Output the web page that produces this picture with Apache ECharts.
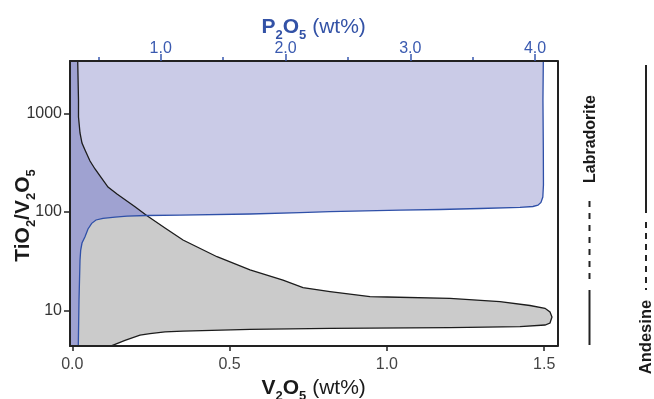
<!DOCTYPE html>
<html><head><meta charset="utf-8">
<script src="https://cdn.jsdelivr.net/npm/echarts@6/dist/echarts.min.js"></script>
<style>html,body{margin:0;padding:0;background:#fff}#c{width:654px;height:399px}</style>
</head><body><div id="c"></div>
<script>
// ---- axis extents ----
const V_MIN = -0.0073, V_MAX = 1.5417;     // V2O5 (wt%) bottom axis
const P_MIN = 0.2732,  P_MAX = 4.178;      // P2O5 (wt%) top axis
const R_MIN = 4.342,   R_MAX = 3396;       // TiO2/V2O5 (log)
const v2o5Ticks = [0, 0.5, 1, 1.5];
const p2o5MajorTicks = [1, 2, 3, 4];
const p2o5MinorTicks = [0.5, 1.5, 2.5, 3.5];
const ratioTicks = [10, 100, 1000];

// ---- V2O5 field (grey): upper boundary from top down to the tip, [V2O5, TiO2/V2O5] ----
const v2o5Upper = [[0.0172,3400],[0.0197,1365],[0.0197,917],[0.0245,631],[0.0308,499],[0.0404,424],
  [0.0563,328],[0.0722,272],[0.088,231],[0.1135,178.5],[0.1421,151.6],[0.1993,112.7],[0.2365,91.7],
  [0.2947,68.5],[0.3519,51.7],[0.46,35.0],[0.5649,25.7],[0.6698,20.3],[0.7334,17.0],[0.8192,15.5],
  [0.9463,13.8],[1.0003,13.65],[1.2006,13.24],[1.3595,12.28],[1.4549,11.19],[1.5026,10.48],
  [1.5185,9.61],[1.5248,8.55]];
// lower boundary from the tip back to the bottom axis
const v2o5Lower = [[1.5185,7.43],[1.5026,7.09],[1.4231,6.82],[1.2006,6.66],[0.8192,6.57],[0.5649,6.41],
  [0.3519,6.16],[0.2947,6.05],[0.247,5.81],[0.2152,5.61],[0.1675,4.94],[0.1198,4.3]];
// ---- P2O5 field (lavender): boundary from bottom-left to top-right, [P2O5, TiO2/V2O5] ----
const p2o5Boundary = [[0.3397,4.3],[0.3454,12.72],[0.3534,32.4],[0.359,40.9],[0.3694,48.2],[0.3934,55.9],
  [0.4175,66.9],[0.4471,76.4],[0.4816,82.6],[0.5377,85.9],[0.6338,88.5],[0.73,90.2],[0.888,91.7],
  [1.1546,92.4],[1.7155,95.0],[2.1162,97.9],[2.3566,100.2],[2.9175,103.8],[3.238,105.5],[3.5585,108.0],
  [3.879,111.1],[3.983,113.2],[4.023,116.7],[4.047,124.3],[4.062,141.3],[4.067,187.1],[4.066,424],
  [4.063,1365],[4.066,3400]];
const crossingRatio = 91.7; // where the two boundaries cross

const C_LAV = '#CACBE7', C_OVER = '#9FA2D1', C_GREY = '#CBCBCB', C_BLUE = '#2F50A8', C_BLACK = '#1c1c1c';
const FONT = '"Liberation Sans", Arial, Helvetica, sans-serif';

const chart = echarts.init(document.getElementById('c'), null, {renderer: 'canvas'});

function polygonSeries(name, xIdx, pts, fill, z) {
  return {
    type: 'custom', name, xAxisIndex: xIdx, yAxisIndex: 0, z, clip: true, silent: true,
    data: pts,
    renderItem: (params, api) => {
      if (params.dataIndex !== 0) return;
      return {type: 'polygon', shape: {points: pts.map(p => api.coord(p))},
              style: {fill: fill, stroke: 'none'}};
    }
  };
}
function lineSeries(name, xIdx, pts, color, z) {
  return {
    type: 'custom', name, xAxisIndex: xIdx, yAxisIndex: 0, z, clip: true, silent: true,
    data: pts,
    renderItem: (params, api) => {
      if (params.dataIndex !== 0) return;
      return {type: 'polyline', shape: {points: pts.map(p => api.coord(p))},
              style: {fill: 'none', stroke: color, lineWidth: 1.3}};
    }
  };
}

const greyPoly = [[V_MIN, R_MAX * 1.01]].concat(v2o5Upper, v2o5Lower, [[V_MIN, R_MIN * 0.99]]);
const lavPoly = [[P_MIN, R_MAX * 1.01], [P_MIN, R_MIN * 0.99]].concat(p2o5Boundary);
const iUp = v2o5Upper.findIndex(p => p[1] === crossingRatio);
const iBl = p2o5Boundary.findIndex(p => p[1] === crossingRatio);

const overlapSeries = {
  type: 'custom', name: 'overlap', xAxisIndex: 0, yAxisIndex: 0, z: 3, clip: true, silent: true,
  data: v2o5Upper.slice(0, iUp + 1),
  renderItem: (params, api) => {
    if (params.dataIndex !== 0) return;
    const pts = [api.coord([V_MIN, R_MAX * 1.01])];
    v2o5Upper.slice(0, iUp + 1).forEach(p => pts.push(api.coord(p)));
    p2o5Boundary.slice(0, iBl).reverse().forEach(p =>
      pts.push(chart.convertToPixel({xAxisIndex: 1, yAxisIndex: 0}, p)));
    pts.push(api.coord([V_MIN, R_MIN * 0.99]));
    return {type: 'polygon', shape: {points: pts}, style: {fill: C_OVER, stroke: 'none'}};
  }
};

const titleRich = (color) => ({
  b: {fontSize: 21, fontWeight: 'bold', color, fontFamily: FONT, lineHeight: 30},
  s: {fontSize: 13, fontWeight: 'bold', color, fontFamily: FONT, lineHeight: 14, verticalAlign: 'bottom'},
  n: {fontSize: 21, fontWeight: 'normal', color, fontFamily: FONT, lineHeight: 30}
});

const option = {
  animation: false,
  backgroundColor: '#fff',
  textStyle: {fontFamily: FONT},
  grid: {left: 70, right: 96.7, top: 61, bottom: 53, containLabel: false, outerBoundsMode: 'none'},
  xAxis: [
    {type: 'value', position: 'bottom', min: V_MIN, max: V_MAX, z: 10,
     name: '{b|V}{s|2}{b|O}{s|5}{n| (wt%)}', nameLocation: 'middle', nameGap: 27, nameMoveOverlap: false,
     nameTextStyle: {rich: titleRich('#1a1a1a')},
     axisLine: {show: true, onZero: false, lineStyle: {color: '#222', width: 2}},
     axisTick: {show: true, length: 5, customValues: v2o5Ticks, lineStyle: {color: '#222', width: 1.5}},
     axisLabel: {customValues: v2o5Ticks, fontSize: 16, color: '#444', margin: 11,
                 formatter: v => v.toFixed(1)},
     splitLine: {show: false}},
    {type: 'value', position: 'top', min: P_MIN, max: P_MAX, z: 10,
     name: '{b|P}{s|2}{b|O}{s|5}{n| (wt%)}', nameLocation: 'middle', nameGap: 19, nameMoveOverlap: false,
     nameTextStyle: {rich: titleRich('#3352A6')},
     axisLine: {show: true, onZero: false, lineStyle: {color: '#222', width: 2}},
     axisTick: {show: true, length: 7, customValues: p2o5MajorTicks, lineStyle: {color: '#3A5AB0', width: 1.5}},
     axisLabel: {customValues: p2o5MajorTicks, fontSize: 16, color: '#3A5AB0', margin: 4,
                 formatter: v => v.toFixed(1)},
     splitLine: {show: false}},
    {type: 'value', position: 'top', min: P_MIN, max: P_MAX, z: 9,
     axisLine: {show: false},
     axisTick: {show: true, length: 4, customValues: p2o5MinorTicks, lineStyle: {color: '#3A5AB0', width: 1.5}},
     axisLabel: {show: false}, splitLine: {show: false}}
  ],
  yAxis: [
    {type: 'log', position: 'left', min: R_MIN, max: R_MAX, z: 10,
     name: '{b|TiO}{s|2}{b|/V}{s|2}{b|O}{s|5}', nameLocation: 'middle', nameGap: 32, nameRotate: 90,
     nameMoveOverlap: false,
     nameTextStyle: {rich: titleRich('#1a1a1a'), padding: [0, 24, 0, 0]},
     axisLine: {show: true, onZero: false, lineStyle: {color: '#222', width: 2}},
     axisTick: {show: true, length: 6, customValues: ratioTicks, lineStyle: {color: '#222', width: 1.5}},
     axisLabel: {customValues: ratioTicks, fontSize: 16, color: '#333', margin: 8,
                 formatter: v => String(Math.round(v))},
     splitLine: {show: false}, minorSplitLine: {show: false}},
    {type: 'log', position: 'right', min: R_MIN, max: R_MAX, z: 10,
     axisLine: {show: true, onZero: false, lineStyle: {color: '#222', width: 2}},
     axisTick: {show: false}, axisLabel: {show: false}, splitLine: {show: false}}
  ],
  series: [
    polygonSeries('P2O5 field', 1, lavPoly, C_LAV, 1),
    polygonSeries('V2O5 field', 0, greyPoly, C_GREY, 2),
    overlapSeries,
    lineSeries('V2O5 upper', 0, v2o5Upper.concat(v2o5Lower), C_BLACK, 4),
    lineSeries('P2O5 boundary', 1, p2o5Boundary, C_BLUE, 5)
  ],
  graphic: [
    {type: 'text', x: 591, y: 139, rotation: Math.PI / 2, z: 20,
     style: {text: 'Labradorite', font: 'bold 16px ' + FONT, fill: '#1a1a1a', align: 'center', verticalAlign: 'middle'}},
    {type: 'text', x: 646.5, y: 337, rotation: Math.PI / 2, z: 20,
     style: {text: 'Andesine', font: 'bold 16.5px ' + FONT, fill: '#1a1a1a', align: 'center', verticalAlign: 'middle'}},
    {type: 'line', z: 20, shape: {x1: 589.5, y1: 201, x2: 589.5, y2: 285},
     style: {stroke: '#222', lineWidth: 2, lineDash: [6, 6]}},
    {type: 'line', z: 20, shape: {x1: 589.5, y1: 290, x2: 589.5, y2: 345},
     style: {stroke: '#222', lineWidth: 2}},
    {type: 'line', z: 20, shape: {x1: 646, y1: 65, x2: 646, y2: 213},
     style: {stroke: '#222', lineWidth: 2}},
    {type: 'line', z: 20, shape: {x1: 646, y1: 222, x2: 646, y2: 290},
     style: {stroke: '#222', lineWidth: 2, lineDash: [6, 5]}}
  ]
};
chart.setOption(option);
</script></body></html>
